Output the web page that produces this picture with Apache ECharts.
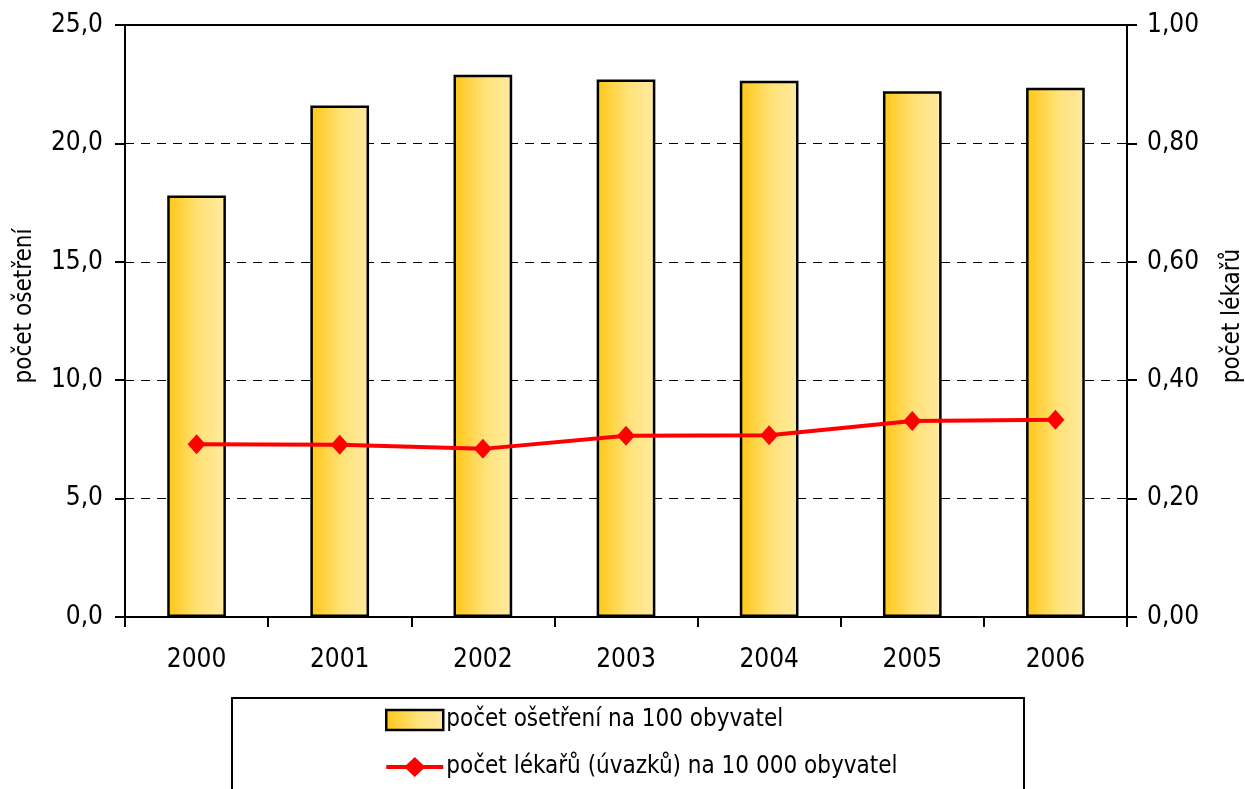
<!DOCTYPE html>
<html>
<head>
<meta charset="utf-8">
<script src="https://cdn.jsdelivr.net/npm/echarts@6/dist/echarts.min.js"></script>
<style>html,body{margin:0;padding:0;background:#fff}#c{width:1245px;height:789px}</style>
</head>
<body>
<div id="c"></div>
<script>
var years = ['2000','2001','2002','2003','2004','2005','2006'];
var treatments = [17.8, 21.6, 22.9, 22.7, 22.65, 22.2, 22.35];
var doctors = [0.292, 0.291, 0.284, 0.306, 0.307, 0.331, 0.333];
var leftTicks = {min: 0, max: 25, interval: 5};
var rightTicks = {min: 0, max: 1, interval: 0.2};
var barName = 'počet ošetření na 100 obyvatel';
var lineName = 'počet lékařů (úvazků) na 10 000 obyvatel';

var FONT = '"Liberation Sans Narrow","Arial Narrow","DejaVu Sans Condensed",sans-serif';
var chart = echarts.init(document.getElementById('c'));
var barGrad = new echarts.graphic.LinearGradient(0, 0, 1, 0, [
  {offset: 0, color: '#FFC714'},
  {offset: 0.55, color: '#FFE27A'},
  {offset: 1, color: '#FFEBA0'}
]);
chart.setOption({
  animation: false,
  backgroundColor: '#fff',
  textStyle: {fontFamily: FONT},
  grid: {left: 125, right: 118, top: 25, bottom: 172, show: true, borderColor: '#000', borderWidth: 2,
    backgroundColor: 'transparent', containLabel: false, outerBoundsMode: 'none'},
  graphic: [{
    type: 'rect', left: 231, top: 697, z: 0,
    shape: {width: 792, height: 110},
    style: {fill: '#fff', stroke: '#000', lineWidth: 2}
  }],
  legend: {
    orient: 'vertical', left: 385, top: 708, padding: 0, itemGap: 23, itemWidth: 57, itemHeight: 20,
    textStyle: {fontFamily: FONT, fontSize: 24, color: '#000', padding: [0,0,0,-2]},
    data: [
      {name: barName, icon: 'rect', itemStyle: {borderColor: '#000', borderWidth: 2.5}},
      {name: lineName, icon: 'path://M0,8 L20,8 L28.5,0 L37,8 L57,8 L57,12 L37,12 L28.5,20 L20,12 L0,12 Z',
        itemStyle: {color: '#FF0000', borderWidth: 0}}
    ]
  },
  xAxis: {
    type: 'category', data: years,
    axisLine: {lineStyle: {color: '#000', width: 2}},
    axisTick: {show: true, length: 10, lineStyle: {color: '#000', width: 2}},
    axisLabel: {color: '#000', fontSize: 26, margin: 30, fontFamily: FONT}
  },
  yAxis: [{
    type: 'value', min: leftTicks.min, max: leftTicks.max, interval: leftTicks.interval,
    name: 'počet ošetření', nameLocation: 'middle', nameGap: 88, nameRotate: 90,
    nameTextStyle: {color: '#000', fontSize: 24, fontFamily: FONT, padding: [0, 0, 0, 30]},
    axisLine: {show: true, lineStyle: {color: '#000', width: 2}},
    axisTick: {show: true, length: 10, lineStyle: {color: '#000', width: 2}},
    axisLabel: {color: '#000', fontSize: 26, margin: 22, fontFamily: FONT,
      formatter: function (v) { return v.toFixed(1).replace('.', ','); }},
    splitLine: {show: true, lineStyle: {color: '#000', width: 1, type: [9, 7]}}
  }, {
    type: 'value', min: rightTicks.min, max: rightTicks.max, interval: rightTicks.interval,
    name: 'počet lékařů', nameLocation: 'middle', nameGap: 94, nameRotate: 90,
    nameTextStyle: {color: '#000', fontSize: 24, fontFamily: FONT, padding: [0, 0, 0, 10]},
    axisLine: {show: true, lineStyle: {color: '#000', width: 2}},
    axisTick: {show: true, length: 10, lineStyle: {color: '#000', width: 2}},
    axisLabel: {color: '#000', fontSize: 26, margin: 20, fontFamily: FONT,
      formatter: function (v) { return v.toFixed(2).replace('.', ','); }},
    splitLine: {show: false}
  }],
  series: [{
    name: barName, type: 'bar', data: treatments, barWidth: '41%',
    itemStyle: {color: barGrad, borderColor: '#000', borderWidth: 2.5}
  }, {
    name: lineName, type: 'line', yAxisIndex: 1, data: doctors,
    symbol: 'diamond', symbolSize: [18, 20],
    lineStyle: {color: '#FF0000', width: 4},
    itemStyle: {color: '#FF0000'}
  }]
});
</script>
</body>
</html>
